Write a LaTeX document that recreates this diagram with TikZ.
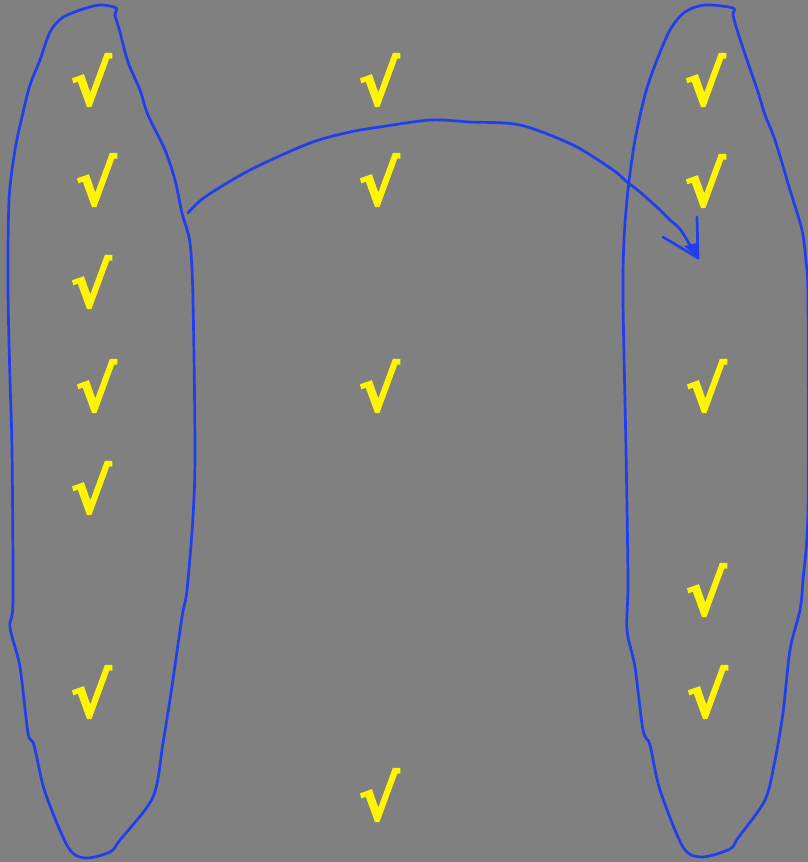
\documentclass[tikz,border=0pt]{standalone}
\usepackage{fontspec}
\newfontfamily\chkfont{DejaVu Sans Bold}[FakeBold=1.8]
\definecolor{bggray}{RGB}{128,128,128}
\definecolor{penblue}{RGB}{32,62,238}
\definecolor{chkyellow}{RGB}{255,245,0}
\tikzset{
  chk/.style={text=chkyellow, inner sep=0pt, font=\chkfont\fontsize{62}{62}\selectfont},
  pen/.style={draw=penblue, line width=2.7pt, line cap=round, line join=round}
}
\begin{document}
\begin{tikzpicture}[x=1pt,y=-1pt]
\fill[bggray] (0,0) rectangle (808,862);
\useasboundingbox (0,0) rectangle (808,862);
% left loop
\draw[pen] plot[smooth cycle, tension=0.5] coordinates {
 (116,8) (100,5) (80,10) (62,18) (50,32) (40,60) (30,85) (22,117)
 (15,150) (9,200) (8,290) (10,380) (12,450) (13,600) (10,627) (20,667)
 (28,733) (34,745) (45,792) (68,847) (85,858) (110,852) (120,840)
 (153,797) (163,743) (171,693) (182,617) (187,590) (193,517) (195,450)
 (193,300) (190,243) (182,213) (175,180) (165,150) (148,115) (140,90)
 (128,62) (120,32) (115,15)};
% right loop
\draw[pen] plot[smooth cycle, tension=0.5] coordinates {
 (733,8) (705,5) (685,12) (670,30) (655,65) (645,95) (635,140) (628,190)
 (624,240) (623,300) (626,450) (628,580) (627,630) (635,667) (643,730)
 (650,745) (660,790) (683,847) (702,857) (730,849) (738,838) (765,800)
 (775,760) (783,713) (790,650) (800,610) (803,580) (808,510) (808,300)
 (806,262) (802,230) (790,190) (775,140) (765,115) (758,92) (747,60)
 (738,33) (733,15)};
% arrow
\coordinate (astart) at (188,213);
\coordinate (aend) at (698,258);
\draw[pen] plot[smooth, tension=0.5] coordinates {
 (astart) (205,197) (250,170) (310,143) (350,132) (380,127) (430,120)
 (470,122) (520,125) (573,145) (613,170) (627,182) (640,192) (660,210)
 (670,220) (680,229) (690,245) (aend)};
\draw[pen] (663,237) -- (aend) -- (697,217);
\fill[penblue] (aend) -- (684,246) -- (697,243) -- cycle;
% check marks
\node[chk] (l1) at (91,80) {√};
\node[chk] (l2) at (96,180) {√};
\node[chk] (l3) at (91,282) {√};
\node[chk] (l4) at (96,386) {√};
\node[chk] (l5) at (91,488) {√};
\node[chk] (l6) at (91,692) {√};
\node[chk] (m1) at (379,80) {√};
\node[chk] (m2) at (379,180) {√};
\node[chk] (m3) at (379,386) {√};
\node[chk] (m4) at (379,795) {√};
\node[chk] (r1) at (705,80) {√};
\node[chk] (r2) at (705,181) {√};
\node[chk] (r3) at (706,386) {√};
\node[chk] (r4) at (706,590) {√};
\node[chk] (r5) at (707,692) {√};
\end{tikzpicture}
\end{document}
